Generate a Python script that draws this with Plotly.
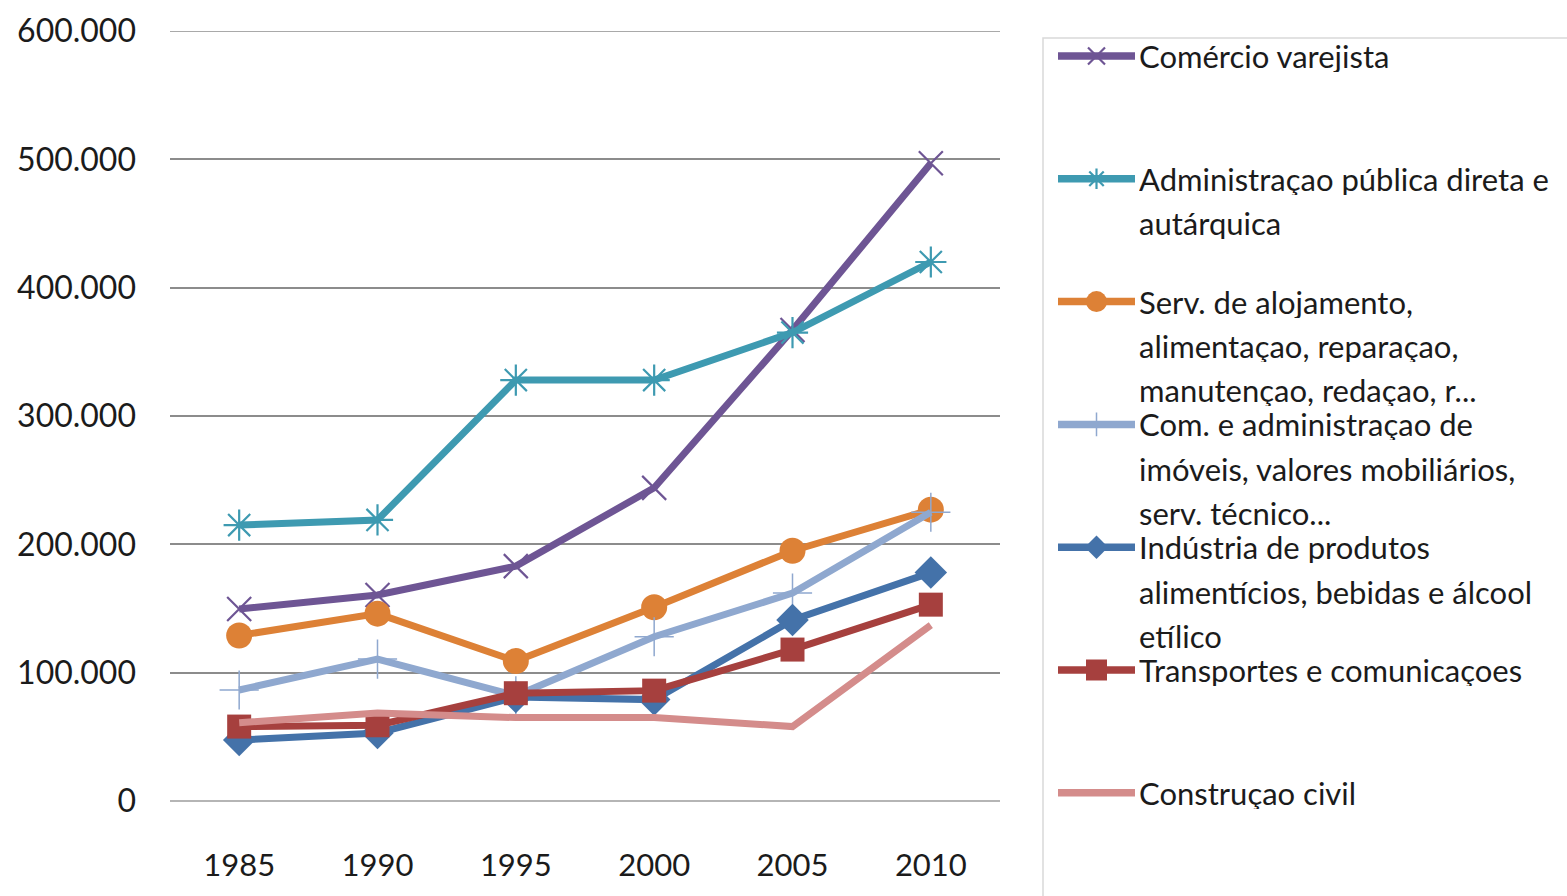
import plotly.graph_objects as go

W, H = 1567, 896

years = ["1985", "1990", "1995", "2000", "2005", "2010"]

comercio_varejista = [149600, 160500, 183000, 244000, 367000, 497000]
administracao_publica = [215000, 219000, 328000, 328000, 365000, 420000]
serv_alojamento = [129000, 146000, 109000, 151000, 195000, 227000]
com_imoveis = [86500, 110600, 82000, 128000, 162000, 225000]
industria_alimenticios = [47500, 53000, 81000, 79000, 141000, 178000]
transportes_comunic = [58000, 59000, 84000, 86000, 118000, 153000]
construcao_civil = [61000, 68500, 65000, 65000, 58000, 137000]

y_ticks = [0, 100000, 200000, 300000, 400000, 500000, 600000]
y_tick_labels = ["0", "100.000", "200.000", "300.000", "400.000", "500.000", "600.000"]

legend_lines = [
    ["Comércio varejista"],
    ["Administraçao pública direta e", "autárquica"],
    ["Serv. de alojamento,", "alimentaçao, reparaçao,", "manutençao, redaçao, r..."],
    ["Com. e administraçao de", "imóveis, valores mobiliários,", "serv. técnico..."],
    ["Indústria de produtos", "alimentícios, bebidas e álcool", "etílico"],
    ["Transportes e comunicaçoes"],
    ["Construçao civil"],
]

series = [
    dict(y=comercio_varejista, color="#6E5594", symbol="x-thin-open", size=24, mlw=2.2, lsize=17),
    dict(y=administracao_publica, color="#3E9AB1", symbol="asterisk-open", size=26, mlw=2.2, lsize=17),
    dict(y=serv_alojamento, color="#DD8136", symbol="circle", size=26, mlw=0, lsize=21),
    dict(y=com_imoveis, color="#8FA8CF", symbol="cross-thin-open", size=28, mlw=1.5, lsize=17),
    dict(y=industria_alimenticios, color="#4472A9", symbol="diamond", size=25, mlw=0, lsize=18),
    dict(y=transportes_comunic, color="#A6403E", symbol="square", size=24, mlw=0, lsize=21),
    dict(y=construcao_civil, color="#D48C8B", symbol=None, size=0, mlw=0, lsize=0),
]

FONT = "Lato"
TEXT_COLOR = "#1b1b1b"

fig = go.Figure()

for s, lines in zip(series, legend_lines):
    if s["symbol"] is None:
        fig.add_trace(go.Scatter(x=years, y=s["y"], mode="lines",
                                 line=dict(color=s["color"], width=7),
                                 name=" ".join(lines), showlegend=False))
    else:
        fig.add_trace(go.Scatter(x=years, y=s["y"], mode="lines+markers",
                                 line=dict(color=s["color"], width=7),
                                 marker=dict(symbol=s["symbol"], size=s["size"], color=s["color"],
                                             line=dict(color=s["color"], width=s["mlw"])),
                                 name=" ".join(lines), showlegend=False))

# manual legend
leg_x0, leg_x1 = 1058, 1135
leg_top = 56
leg_step = 122.8
line_h = 44.3
text_x = 1138

for i, (s, lines) in enumerate(zip(series, legend_lines)):
    py = leg_top + i * leg_step
    fig.add_trace(go.Scatter(x=[leg_x0, leg_x1], y=[py, py], mode="lines",
                             line=dict(color=s["color"], width=7.5),
                             xaxis="x2", yaxis="y2", showlegend=False, hoverinfo="skip"))
    if s["symbol"] is not None:
        fig.add_trace(go.Scatter(x=[(leg_x0 + leg_x1) / 2], y=[py], mode="markers",
                                 marker=dict(symbol=s["symbol"], size=s["lsize"], color=s["color"],
                                             line=dict(color=s["color"], width=s["mlw"])),
                                 xaxis="x2", yaxis="y2", showlegend=False, hoverinfo="skip"))
    for j, t in enumerate(lines):
        fig.add_annotation(x=text_x / W, y=1 - (py + j * line_h) / H, xref="paper", yref="paper",
                           text=t, showarrow=False, xanchor="left", yanchor="middle",
                           height=32, borderpad=0,
                           font=dict(family=FONT, size=31, color=TEXT_COLOR))

# legend box
fig.add_shape(type="rect", xref="paper", yref="paper",
              x0=1043 / W, x1=1.05, y0=-0.05, y1=1 - 38 / H,
              line=dict(color="#d9d9d9", width=1.5), fillcolor="rgba(0,0,0,0)", layer="below")

fig.update_layout(
    width=W, height=H,
    margin=dict(l=0, r=0, t=0, b=0, autoexpand=False),
    paper_bgcolor="white", plot_bgcolor="white",
    font=dict(family=FONT, color=TEXT_COLOR),
    showlegend=False,
    xaxis=dict(domain=[170 / W, 1000 / W], type="category", range=[-0.5, 5.5],
               showgrid=False, zeroline=False, showline=False, ticks="", automargin=False,
               tickfont=dict(family=FONT, size=31, color=TEXT_COLOR),
               ticklabelstandoff=43),
    yaxis=dict(domain=[(H - 801) / H, (H - 31) / H], range=[0, 600000], automargin=False,
               tickvals=y_ticks, ticktext=y_tick_labels,
               showgrid=True, gridcolor="#8c8c8c", gridwidth=1.5,
               zeroline=True, zerolinecolor="#b5b5b5", zerolinewidth=1.5,
               showline=False, ticks="",
               tickfont=dict(family=FONT, size=32, color=TEXT_COLOR),
               ticklabelstandoff=33),
    xaxis2=dict(domain=[leg_x0 / W, leg_x1 / W], range=[leg_x0, leg_x1], visible=False,
                anchor="y2", fixedrange=True, automargin=False),
    yaxis2=dict(domain=[0, 1], range=[H, 0], visible=False, anchor="x2", fixedrange=True,
                automargin=False),
)

# top gridline at 600.000 (range edge)
fig.add_shape(type="line", xref="x domain", yref="y", x0=0, x1=1, y0=600000, y1=600000,
              line=dict(color="#8c8c8c", width=1.5), layer="below")

fig.write_html("out.html", config={"displayModeBar": False},
               post_script="document.body.style.margin='0';")
